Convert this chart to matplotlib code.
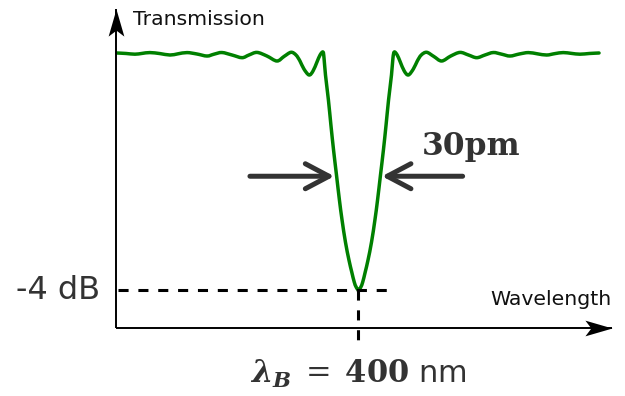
import numpy as np
import matplotlib
matplotlib.use('Agg')
import matplotlib.pyplot as plt
from matplotlib.path import Path
from matplotlib.patches import FancyArrowPatch, ArrowStyle, PathPatch

# transmission spectrum of the grating
# wavelength offset from lambda_B in pm, transmission in dB
wavelength_pm = [
    -164.7, -158.5, -152.4, -147.6, -142.2, -135.3, -128.5, -123.1, -116.9, -110.1,
    -103.3, -98.5, -93.1, -86.2, -79.4, -74.7, -69.2, -62.4, -55.6, -50.8,
    -46.0, -42.6, -39.9, -37.2, -33.7, -31.0, -28.3, -26.2, -24.2, -23.5,
    -22.5, -20.5, -18.8, -17.0, -15.0, -13.0, -11.2, -8.9, -6.5, -4.6,
    -2.9, -1.6, 0.0, 1.6, 2.9, 4.6, 6.5, 8.9, 11.2, 13.0,
    15.0, 17.0, 18.8, 20.5, 22.5, 23.5, 24.4, 26.4, 28.5, 31.2,
    34.0, 37.4, 40.1, 42.8, 46.5, 51.4, 56.7, 62.9, 69.2, 75.0,
    80.6, 86.2, 91.9, 97.6, 103.3, 109.6, 115.8, 122.0, 128.3, 134.0,
    139.6, 145.3, 151.0, 157.5, 164.0]
transmission_db = [
    0.000, -0.008, -0.020, -0.007, 0.007, -0.010, -0.034, -0.014, 0.007, -0.017,
    -0.051, -0.020, 0.008, -0.034, -0.079, -0.034, 0.010, -0.051, -0.135, -0.059,
    0.012, -0.034, -0.135, -0.270, -0.371, -0.304, -0.152, -0.034, 0.017, -0.084,
    -0.371, -0.793, -1.215, -1.637, -2.059, -2.481, -2.819, -3.190, -3.494, -3.696,
    -3.865, -3.950, -4.000, -3.950, -3.865, -3.696, -3.494, -3.190, -2.819, -2.481,
    -2.059, -1.637, -1.215, -0.793, -0.371, -0.084, 0.017, -0.034, -0.152, -0.304,
    -0.371, -0.270, -0.135, -0.034, 0.012, -0.059, -0.135, -0.051, 0.010, -0.034,
    -0.079, -0.034, 0.008, -0.020, -0.051, -0.017, 0.007, -0.014, -0.034, -0.010,
    0.007, -0.007, -0.020, -0.008, 0.000]

center_nm = 400
dip_db = -4
fwhm_pm = 30

plt.rcParams['mathtext.fontset'] = 'dejavuserif'

fig = plt.figure(figsize=(6.25, 3.96), dpi=100)
ax = fig.add_axes([0, 0, 1, 1])
ax.set_xlim(-244.4, 181.7)
ax.set_ylim(-5.789, 0.8945)
ax.axis('off')

# hand drawn axes with concave arrow heads
x_org, y_org = -165.3, -4.641
x_tip, y_tip = 172.8, 0.743
head_r = Path([(0, 0), (-1, 0.29), (-0.78, 0), (-1, -0.29), (0, 0)],
              [Path.MOVETO, Path.LINETO, Path.LINETO, Path.LINETO, Path.CLOSEPOLY])
head_u = Path([(0, 0), (0.29, -1), (0, -0.78), (-0.29, -1), (0, 0)],
              [Path.MOVETO, Path.LINETO, Path.LINETO, Path.LINETO, Path.CLOSEPOLY])
ax.plot([x_org, x_tip], [y_org, y_org], color='k', lw=1.4, solid_capstyle='butt')
ax.plot([x_org, x_org], [y_org, y_tip], color='k', lw=1.4, solid_capstyle='butt')
ax.plot(x_tip, y_org, marker=head_r, ms=39, color='k', mew=0)
ax.plot(x_org, y_tip, marker=head_u, ms=39, color='k', mew=0)

# -4 dB level and lambda_B marker
ax.plot([-164, 22.8], [dip_db, dip_db], color='k', lw=2.2, dashes=(3.3, 3.2))
ax.plot([0, 0], [dip_db, -4.85], color='k', lw=2.2, dashes=(3.3, 3.2))

# smooth curve through the read points (Catmull-Rom as cubic Bezier)
pts = np.column_stack([wavelength_pm, transmission_db])
ext = np.vstack([pts[0], pts, pts[-1]])
verts = [pts[0]]
codes = [Path.MOVETO]
for i in range(1, len(ext) - 2):
    p0, p1, p2, p3 = ext[i - 1], ext[i], ext[i + 1], ext[i + 2]
    verts += [p1 + (p2 - p0) / 6, p2 - (p3 - p1) / 6, p2]
    codes += [Path.CURVE4] * 3
ax.add_patch(PathPatch(Path(verts, codes), fill=False, edgecolor='#008000', lw=2.5,
                       joinstyle='round', capstyle='round'))

# FWHM arrows
arrow_db = -2.08
for tail, tip in [(-fwhm_pm / 2 - 59, -fwhm_pm / 2 - 1.5),
                  (fwhm_pm / 2 + 56, fwhm_pm / 2 + 1.0)]:
    ax.add_patch(FancyArrowPatch((tail, arrow_db), (tip, arrow_db),
                                 arrowstyle=ArrowStyle('->', head_length=17, head_width=9),
                                 mutation_scale=1, lw=3.6, color='#333333',
                                 capstyle='round', joinstyle='round',
                                 shrinkA=0, shrinkB=0))

ax.text(-153.9, 0.557, 'Transmission', fontsize=14.7, ha='left', va='center', color='#111111')
ax.text(172.8, -4.152, 'Wavelength', fontsize=14.7, ha='right', va='center', color='#111111')
ax.text(-176.2, dip_db, f'{dip_db} dB', fontsize=23, ha='right', va='center', color='#333333')
ax.text(43.3, -1.586, f'{fwhm_pm}pm', fontsize=22.5, fontweight='bold', family='DejaVu Serif',
        ha='left', va='center', color='#333333')
ax.text(0, -5.42, r'$\mathbfit{\lambda_B}\;=\;\mathbf{' + str(center_nm) + '}$ nm',
        fontsize=22, ha='center', va='center', color='#333333')

fig.savefig('out.png', dpi=100)
